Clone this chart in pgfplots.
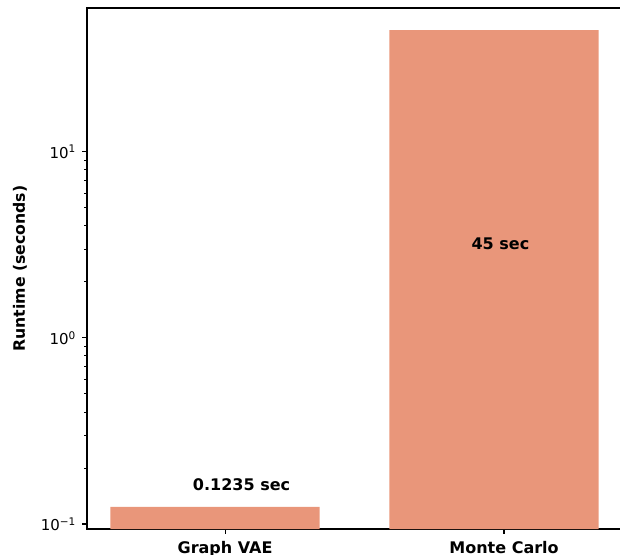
\documentclass[border=0pt]{standalone}
\usepackage{fontspec}
\setmainfont{DejaVu Sans}
\usepackage{pgfplots}
\pgfplotsset{compat=1.18}
\definecolor{barc}{HTML}{E9967A}
\begin{document}
\begin{tikzpicture}
\begin{axis}[
  at={(0,0)}, anchor=south west,
  scale only axis, width=536pt, height=521pt,
  xmin=-0.459, xmax=1.4625,
  ymode=log, ymin=0.09397, ymax=59.16,
  log origin=infty,
  xtick={0.036,1.036}, xticklabels={Graph VAE,Monte Carlo},
  ytick={0.1,1,10},
  yticklabels={10\textsuperscript{−1},10\textsuperscript{0},10\textsuperscript{1}},
  xtick pos=left, ytick pos=left,
  tick align=outside,
  major tick length=4.9pt, minor tick length=2.8pt,
  tick style={black, line width=1.1pt},
  minor tick style={black, line width=0.8pt},
  axis line style={black, line width=1.1pt},
  xticklabel style={font=\fontsize{16}{19}\selectfont\bfseries, anchor=base, inner sep=0pt, yshift=-20pt},
  yticklabel style={font=\fontsize{15}{18}\selectfont, anchor=east, inner sep=0pt, xshift=-6pt},
  ylabel={Runtime (seconds)},
  ylabel style={at={(axis description cs:-0.1157,0.5)}, anchor=base, font=\fontsize{15.7}{18}\selectfont\bfseries, inner sep=0pt},
]
\addplot[ybar, bar width=0.75, fill=barc, draw=none] coordinates {(0,0.1235) (1,45)};
\node[font=\fontsize{16}{19}\selectfont\bfseries, anchor=base] at (axis cs:0.095,0.151) {0.1235 sec};
\node[font=\fontsize{16}{19}\selectfont\bfseries, anchor=base] at (axis cs:1.023,2.965) {45 sec};
\end{axis}
\pgfresetboundingbox
\useasboundingbox (-87pt,-25pt) rectangle (533pt,529pt);
\end{tikzpicture}
\end{document}
